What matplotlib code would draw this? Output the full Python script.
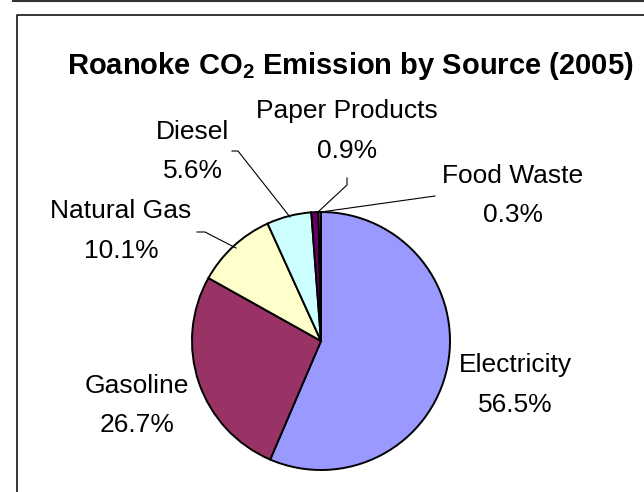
import matplotlib.pyplot as plt

plt.rcParams['font.family'] = ['Liberation Sans', 'DejaVu Sans']
plt.rcParams['mathtext.fontset'] = 'custom'
plt.rcParams['mathtext.rm'] = 'Liberation Sans'
plt.rcParams['mathtext.bf'] = 'Liberation Sans:bold'

sources = ["Electricity", "Gasoline", "Natural Gas", "Diesel", "Paper Products", "Food Waste"]
shares = [56.5, 26.7, 10.1, 5.6, 0.9, 0.3]
colors = ["#9999FF", "#993366", "#FFFFCC", "#CCFFFF", "#660066", "#FF8080"]

W, H = 644, 492


def Y(y):
    # work in image-style pixel rows (0 at top)
    return H - y


fig = plt.figure(figsize=(W / 100, H / 100), dpi=100)
ax = fig.add_axes([0, 0, 1, 1])

cx, cy, r = 321, 341, 129
ax.pie(shares, colors=colors, startangle=90, counterclock=False,
       center=(cx, Y(cy)), radius=r,
       wedgeprops=dict(edgecolor="black", linewidth=1.4))

ax.set_xlim(0, W)
ax.set_ylim(0, H)
ax.set_aspect("equal")
ax.axis("off")

# chart frame and the rule above it
ax.plot([13, W], [Y(1), Y(1)], color="#333333", lw=1.5, clip_on=False)
ax.plot([17, 17, W], [Y(H), Y(15), Y(15)], color="black", lw=1.1, clip_on=False)

ax.text(350, Y(74), r"Roanoke CO$_{\mathbf{2}}$ Emission by Source (2005)",
        ha="center", va="baseline", fontsize=21, fontweight="bold")

# label name / percentage, baseline rows
labels = {
    "Electricity": (515, 372, 412),
    "Gasoline": (137, 393, 432),
    "Natural Gas": (121, 218, 258),
    "Diesel": (193, 139, 178),
    "Paper Products": (347, 118, 158),
    "Food Waste": (513, 183, 222),
}
for name, pct in zip(sources, shares):
    x, y1, y2 = labels[name]
    ax.text(x, Y(y1), name, ha="center", va="baseline", fontsize=19)
    ax.text(x, Y(y2), f"{pct}%", ha="center", va="baseline", fontsize=19)

# leader lines
leaders = [
    [(197, 232), (205, 232), (236, 248)],
    [(232, 151), (238, 151), (290, 217)],
    [(347, 178), (347, 185), (318, 212)],
    [(435, 196), (321, 212)],
]
for pts in leaders:
    xs = [p[0] for p in pts]
    ys = [Y(p[1]) for p in pts]
    ax.plot(xs, ys, color="black", lw=0.8)

fig.savefig("out.png", dpi=100)
